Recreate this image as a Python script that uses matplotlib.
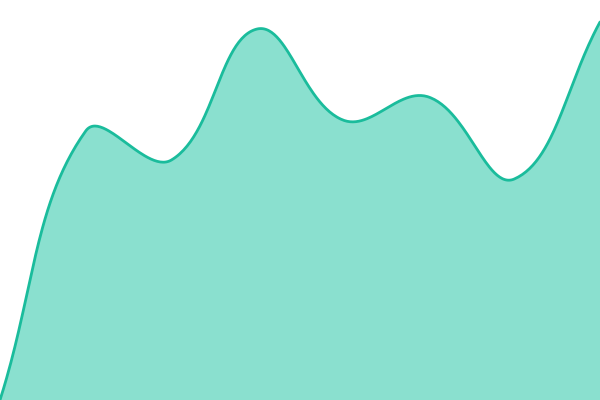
import numpy as np
import matplotlib.pyplot as plt

## Data:
labels = ["1", "2", "3", "4", "5", "6", "7", "8"]
values = [0, 269, 240, 371, 280, 303, 221, 378]

## Spline like a tension 0.4 bezier curve (computed in pixel space):
W, H = 600, 400
n = len(values)
px = np.linspace(0, W, n)
py = np.array(values, dtype=float)  # y-axis is 0..400 so one unit == one pixel
tension = 0.4

cp_prev = []
cp_next = []
for i in range(n):
    p = np.array([px[i], py[i]])
    prev = np.array([px[i - 1], py[i - 1]]) if i > 0 else p
    nxt = np.array([px[i + 1], py[i + 1]]) if i < n - 1 else p
    d01 = np.hypot(*(p - prev))
    d12 = np.hypot(*(nxt - p))
    s01 = d01 / (d01 + d12) if d01 + d12 else 0
    s12 = d12 / (d01 + d12) if d01 + d12 else 0
    c1 = p - tension * s01 * (nxt - prev)
    c2 = p + tension * s12 * (nxt - prev)
    # keep control points inside the chart area
    c1 = np.clip(c1, [0, 0], [W, H])
    c2 = np.clip(c2, [0, 0], [W, H])
    cp_prev.append(c1)
    cp_next.append(c2)

t = np.linspace(0, 1, 60)[:, None]
xs, ys = [], []
for i in range(n - 1):
    p0 = np.array([px[i], py[i]])
    p3 = np.array([px[i + 1], py[i + 1]])
    p1 = cp_next[i]
    p2 = cp_prev[i + 1]
    seg = (1 - t) ** 3 * p0 + 3 * (1 - t) ** 2 * t * p1 + 3 * (1 - t) * t ** 2 * p2 + t ** 3 * p3
    xs.extend(seg[:, 0])
    ys.extend(seg[:, 1])
xs = np.array(xs)
ys = np.array(ys)

## Plot:
fig = plt.figure(figsize=(6, 4), dpi=100)
ax = fig.add_axes([0, 0, 1, 1])
ax.fill_between(xs, 0, ys, color="#8ae0cf", linewidth=0)
ax.plot(xs, ys, color="#1abc9c", linewidth=2.0, solid_capstyle="round")
ax.set_xlim(0, W)
ax.set_ylim(0, H)
ax.axis("off")
fig.savefig("out.png", dpi=100)
